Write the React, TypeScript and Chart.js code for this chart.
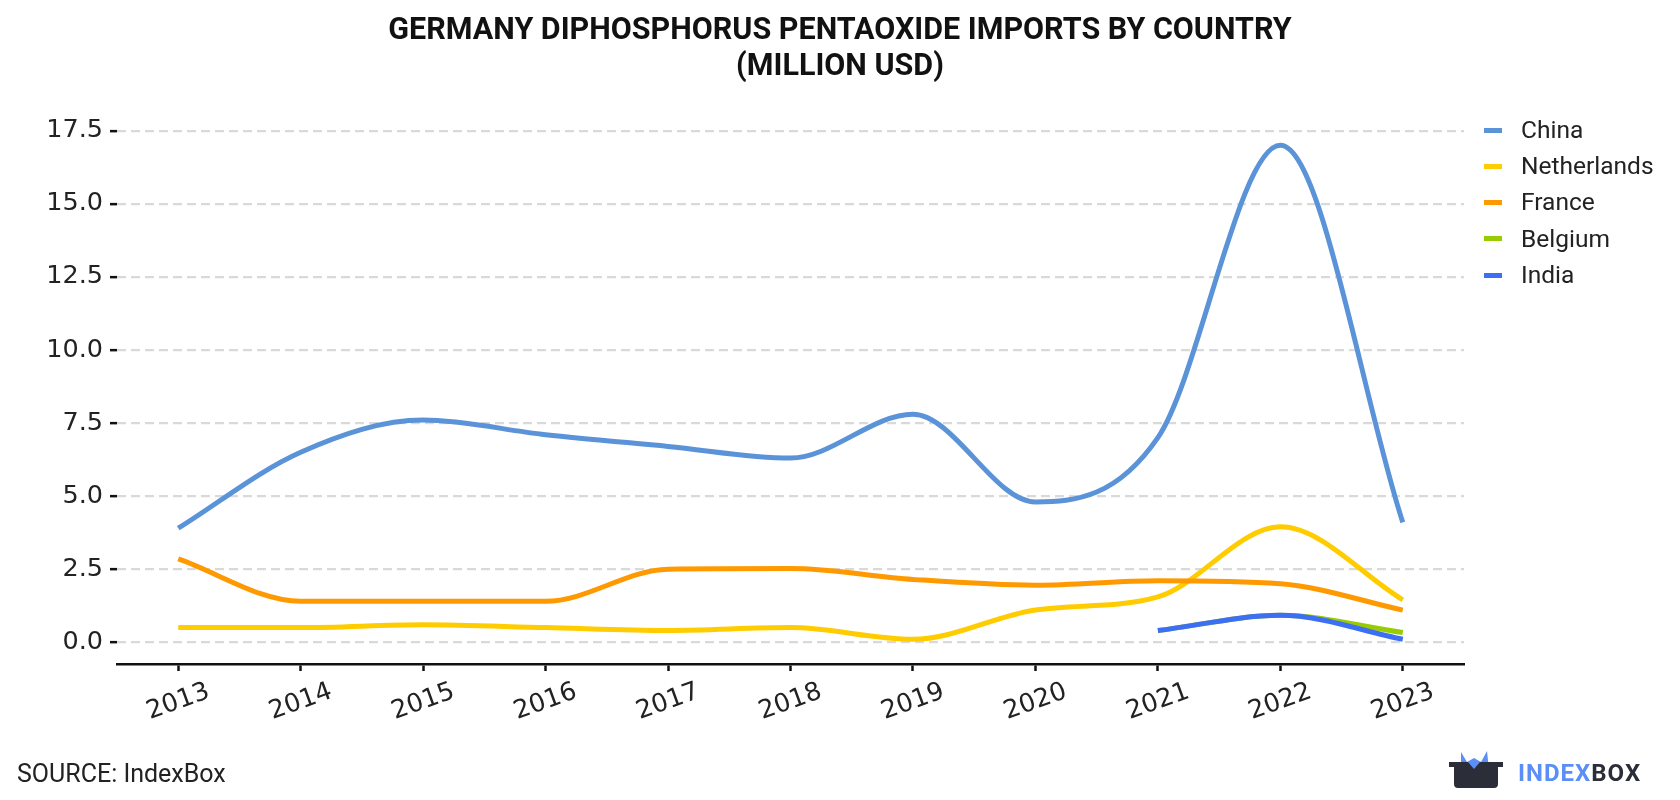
import React, { useEffect, useRef } from "react";
import { Chart, registerables } from "chart.js";

Chart.register(...registerables);

const years = [2013, 2014, 2015, 2016, 2017, 2018, 2019, 2020, 2021, 2022, 2023];
const china = [3.9, 6.5, 7.6, 7.1, 6.7, 6.3, 7.8, 4.8, 7.0, 17.0, 4.1];
const netherlands = [0.5, 0.5, 0.6, 0.5, 0.4, 0.5, 0.1, 1.1, 1.55, 3.95, 1.45];
const france = [2.85, 1.4, 1.4, 1.4, 2.5, 2.52, 2.15, 1.95, 2.1, 2.0, 1.1];
const belgium = [null, null, null, null, null, null, null, null, 0.4, 0.92, 0.33];
const india = [null, null, null, null, null, null, null, null, 0.4, 0.92, 0.1];
const yTicks = [0, 2.5, 5, 7.5, 10, 12.5, 15, 17.5];

const seriesNames = ["China", "Netherlands", "France", "Belgium", "India"];
const seriesValues = [china, netherlands, france, belgium, india];
const seriesColors = ["#5b93d9", "#ffcc00", "#ff9900", "#99cc00", "#3d6ff5"];

const TITLE_LINES = ["GERMANY DIPHOSPHORUS PENTAOXIDE IMPORTS BY COUNTRY", "(MILLION USD)"];

const xLabelPlugin = {
  id: "xLabels",
  afterDraw(chart: any) {
    const { ctx, chartArea } = chart;
    const x = chart.scales.x;
    ctx.save();
    ctx.font = '25.5px "DejaVu Sans"';
    ctx.fillStyle = "#222";
    ctx.textAlign = "center";
    ctx.textBaseline = "middle";
    years.forEach((yr) => {
      const px = x.getPixelForValue(yr);
      ctx.save();
      ctx.translate(px, chartArea.bottom + 38);
      ctx.rotate((-20 * Math.PI) / 180);
      ctx.fillText(String(yr), 0, 0);
      ctx.restore();
    });
    ctx.restore();
  },
};

export default function App() {
  const canvasRef = useRef<HTMLCanvasElement | null>(null);

  useEffect(() => {
    if (!canvasRef.current) return;
    const datasets = seriesNames.map((name, i) => ({
      label: name,
      data: years
        .map((yr, j) => ({ x: yr, y: seriesValues[i][j] }))
        .filter((p) => p.y !== null && p.y !== undefined),
      borderColor: seriesColors[i],
      backgroundColor: seriesColors[i],
      borderWidth: 5,
      pointRadius: 0,
      pointHoverRadius: 0,
      fill: false,
      cubicInterpolationMode: "monotone" as const,
      order: -i,
    }));

    const chart = new Chart(canvasRef.current, {
      type: "line",
      data: { datasets },
      options: {
        animation: false,
        responsive: false,
        maintainAspectRatio: false,
        layout: { padding: { top: 120.5, right: 216, left: 0, bottom: 0 } },
        plugins: {
          legend: { display: false },
          title: { display: false },
          tooltip: { enabled: false },
        },
        scales: {
          x: {
            type: "linear",
            min: 2012.5,
            max: 2023.5,
            afterBuildTicks: (scale: any) => {
              scale.ticks = years.map((v) => ({ value: v }));
            },
            afterFit: (scale: any) => {
              scale.height = 136;
            },
            ticks: { display: false },
            grid: {
              drawOnChartArea: false,
              drawTicks: true,
              tickLength: 7,
              tickColor: "#111",
              tickWidth: 2.5,
            },
            border: { display: true, color: "#111", width: 2.5 },
          },
          y: {
            type: "linear",
            min: -0.745,
            max: 17.85,
            afterBuildTicks: (scale: any) => {
              scale.ticks = yTicks.map((v) => ({ value: v }));
            },
            afterFit: (scale: any) => {
              scale.width = 117;
            },
            ticks: {
              padding: 7,
              color: "#222",
              font: { family: "DejaVu Sans", size: 25.5 },
              callback: (v: any) => Number(v).toFixed(1),
            },
            grid: {
              drawOnChartArea: true,
              drawTicks: true,
              tickLength: 7,
              tickColor: "#111",
              tickWidth: 2.5,
              tickBorderDash: [],
              color: "#d9d9d9",
              lineWidth: 2.3,
            },
            border: { display: false, dash: [9, 5] },
          },
        },
      },
      plugins: [xLabelPlugin],
    });
    return () => chart.destroy();
  }, []);

  const legendY = [130, 166, 202, 238.5, 275];

  return (
    <div
      style={{
        position: "fixed",
        left: 0,
        top: 0,
        width: 1680,
        height: 800,
        background: "#fff",
        fontFamily: "Roboto, sans-serif",
      }}
    >
      <canvas ref={canvasRef} width={1680} height={800} style={{ position: "absolute", left: 0, top: 0, width: 1680, height: 800 }} />
      <div
        style={{
          position: "absolute",
          left: 0,
          top: 10.5,
          width: 1680,
          textAlign: "center",
          fontWeight: 700,
          fontSize: 30.5,
          lineHeight: "36px",
          color: "#111",
        }}
      >
        {TITLE_LINES.map((t) => (
          <div key={t}>{t}</div>
        ))}
      </div>
      {seriesNames.map((name, i) => (
        <div
          key={name}
          style={{
            position: "absolute",
            left: 1484,
            top: legendY[i] - 15,
            height: 30,
            display: "flex",
            alignItems: "center",
          }}
        >
          <div style={{ width: 18, height: 5, background: seriesColors[i] }} />
          <div style={{ marginLeft: 19, fontSize: 24.5, color: "#222", lineHeight: "30px" }}>{name}</div>
        </div>
      ))}
      <div style={{ position: "absolute", left: 17, top: 759, fontSize: 25, lineHeight: "30px", color: "#222" }}>
        SOURCE: IndexBox
      </div>
      <svg style={{ position: "absolute", left: 1448, top: 749 }} width={56} height={42} viewBox="0 0 56 42">
        <path d="M13 3 L19 13 L26 9 L33 13 L39 2 L41 21 L13 21 Z" fill="#5b8ff5" />
        <path d="M1 13 L20 13 L26 20 L32 13 L55 13 L55 18 L50 18 L50 35 Q50 39 46 39 L10 39 Q6 39 6 35 L6 18 L1 18 Z" fill="#2b2d38" />
      </svg>
      <div
        style={{
          position: "absolute",
          left: 1518,
          top: 758,
          fontSize: 24,
          lineHeight: "30px",
          fontWeight: 700,
          letterSpacing: 1,
        }}
      >
        <span style={{ color: "#5b8ff5" }}>INDEX</span>
        <span style={{ color: "#2b2d38" }}>BOX</span>
      </div>
    </div>
  );
}
